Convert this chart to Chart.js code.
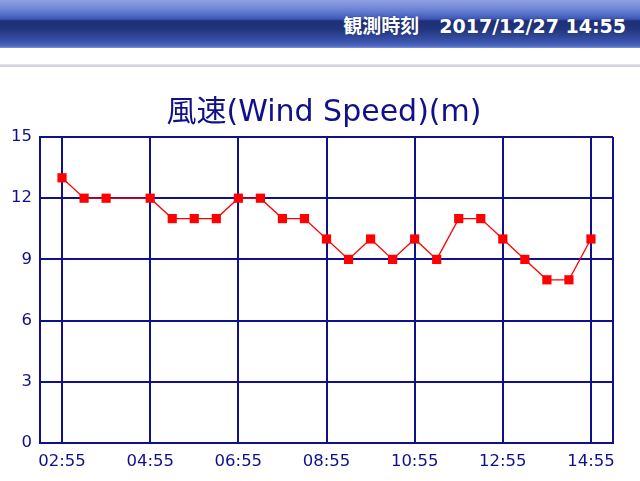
<!DOCTYPE html>
<html>
<head>
<meta charset="utf-8">
<script src="https://cdn.jsdelivr.net/npm/chart.js@4"></script>
<style>
  html, body { margin: 0; padding: 0; background: #fff; }
  body { width: 640px; height: 481px; position: relative; overflow: hidden; }
  #header {
    position: absolute; left: 0; top: 0; width: 640px; height: 48px;
    background: linear-gradient(to bottom, #8fa2e2 0px, #6a82d4 10px, #3c57b9 19px, #1e2f74 21px, #22377f 30px, #3b54ad 42px, #4e68c0 46px, #7f94da 48px);
  }
  #stamp {
    position: absolute; right: 14px; top: 11px; color: #fff;
    font: bold 19px "DejaVu Sans", "Noto Sans CJK JP", sans-serif;
    white-space: nowrap; text-shadow: 0 0 1px #1a2560;
  }
  #stamp .label { font-family: "Noto Sans CJK JP", sans-serif; margin-right: 20px; }
  #rule {
    position: absolute; left: 0; top: 64px; width: 640px; height: 3px;
    background: linear-gradient(to bottom, #e3e6eb, #c9ccd3);
  }
  #title {
    position: absolute; left: 4px; width: 640px; top: 93px; text-align: center;
    font: 30px "DejaVu Sans", "Noto Sans CJK JP", sans-serif; line-height: 36px;
    color: #10108a; white-space: nowrap;
  }
  #chartBox { position: absolute; left: 0; top: 0; width: 640px; height: 481px; }
</style>
</head>
<body>
<div id="chartBox"><canvas id="windChart" width="640" height="481"></canvas></div>
<div id="header"><div id="stamp"><span class="label">観測時刻</span>2017/12/27 14:55</div></div>
<div id="rule"></div>
<div id="title"></div>
<script>
const TITLE = "風速(Wind Speed)(m)";
const times = [
  "02:55", "03:25", "03:55", "04:55", "05:25", "05:55", "06:25", "06:55",
  "07:25", "07:55", "08:25", "08:55", "09:25", "09:55", "10:25", "10:55",
  "11:25", "11:55", "12:25", "12:55", "13:25", "13:55", "14:25", "14:55"
];
const speeds = [13, 12, 12, 12, 11, 11, 11, 12, 12, 11, 11, 10, 9, 10, 9, 10, 9, 11, 11, 10, 9, 8, 8, 10];
const xTickLabels = ["02:55", "04:55", "06:55", "08:55", "10:55", "12:55", "14:55"];
const xStart = "02:25";
const xEnd = "15:25";
const yTicks = [0, 3, 6, 9, 12, 15];

const NAVY = "#10108a";

document.getElementById("title").textContent = TITLE;

function toMinutes(t) {
  const parts = t.split(":");
  return Number(parts[0]) * 60 + Number(parts[1]);
}

const xMin = toMinutes(xStart);
const xMax = toMinutes(xEnd);
// edge ticks carry no label, they only give the right border line
const xTickValues = [xMin, ...xTickLabels.map(toMinutes), xMax];

new Chart(document.getElementById("windChart"), {
  type: "line",
  data: {
    datasets: [{
      data: times.map((t, i) => ({ x: toMinutes(t), y: speeds[i] })),
      borderColor: "#ff0000",
      backgroundColor: "#ff0000",
      borderWidth: 1.3,
      pointStyle: "rect",
      pointRadius: 6.5,
      pointBorderWidth: 0,
      tension: 0
    }]
  },
  options: {
    responsive: false,
    animation: false,
    layout: { padding: { left: 0, right: 27, top: 137, bottom: 8 } },
    plugins: {
      legend: { display: false },
      tooltip: { enabled: false },
      title: { display: false }
    },
    scales: {
      x: {
        type: "linear",
        min: xMin,
        max: xMax,
        afterBuildTicks: scale => {
          scale.ticks = xTickValues.map(v => ({ value: v }));
        },
        afterFit: scale => { scale.height = 30; },
        ticks: {
          autoSkip: false,
          maxRotation: 0,
          padding: 9,
          color: NAVY,
          font: { family: "'DejaVu Sans', sans-serif", size: 16.5 },
          callback: value => {
            const idx = xTickLabels.map(toMinutes).indexOf(value);
            return idx >= 0 ? xTickLabels[idx] : "";
          }
        },
        grid: { color: NAVY, lineWidth: 2, drawTicks: false },
        border: { color: NAVY, width: 2 }
      },
      y: {
        min: 0,
        max: 15,
        afterBuildTicks: scale => {
          scale.ticks = yTicks.map(v => ({ value: v }));
        },
        afterFit: scale => { scale.width = 40; },
        ticks: {
          padding: 8,
          color: NAVY,
          font: { family: "'DejaVu Sans', sans-serif", size: 16.5 }
        },
        grid: { color: NAVY, lineWidth: 2, drawTicks: false },
        border: { color: NAVY, width: 2 }
      }
    }
  }
});
</script>
</body>
</html>
